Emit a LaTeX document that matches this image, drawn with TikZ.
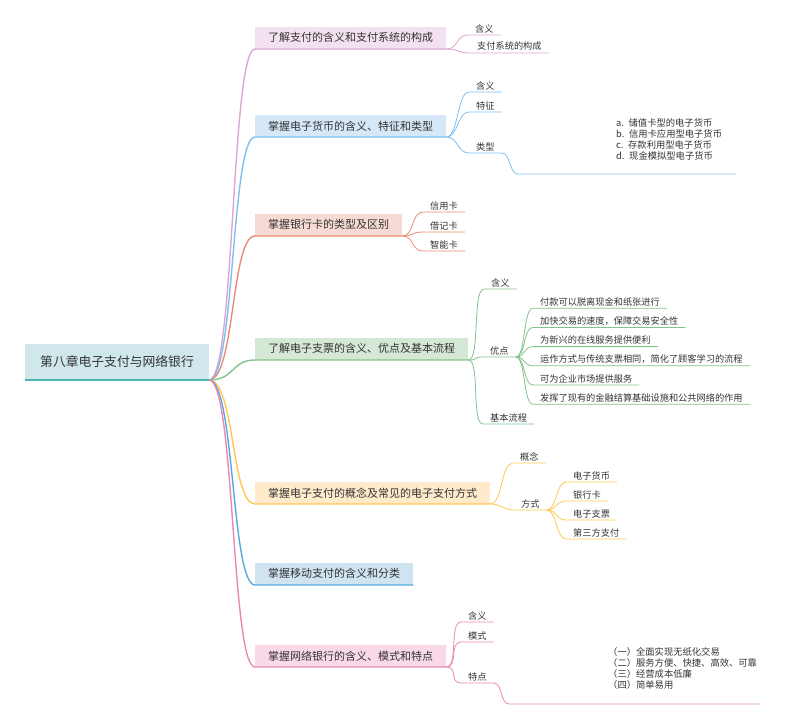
\documentclass[tikz,border=0pt]{standalone}
\usepackage{fontspec}
\setmainfont{Noto Sans CJK SC}
\usetikzlibrary{positioning}
\definecolor{txt}{RGB}{51,51,51}
\definecolor{rootfill}{RGB}{208,232,235}
\definecolor{rootline}{RGB}{77,182,180}
\definecolor{pkfill}{RGB}{243,225,240}
\definecolor{pkline}{RGB}{222,165,210}
\definecolor{blfill}{RGB}{214,232,248}
\definecolor{blline}{RGB}{125,192,240}
\definecolor{rdfill}{RGB}{247,218,212}
\definecolor{rdline}{RGB}{232,140,115}
\definecolor{gnfill}{RGB}{213,232,213}
\definecolor{gnline}{RGB}{130,195,140}
\definecolor{ylfill}{RGB}{255,234,204}
\definecolor{ylline}{RGB}{255,200,80}
\definecolor{cyfill}{RGB}{207,227,240}
\definecolor{cyline}{RGB}{85,170,220}
\definecolor{mgfill}{RGB}{249,217,231}
\definecolor{mgline}{RGB}{235,135,180}
\begin{document}
\begin{tikzpicture}[x=1pt,y=-1pt,
    topic/.style={fill=#1,text=txt,font=\fontsize{11}{13}\selectfont,inner xsep=13pt,inner ysep=0pt,minimum height=22pt,anchor=south west},
    sub/.style={text=txt,font=\fontsize{9.2}{11}\selectfont,inner xsep=7pt,inner ysep=2pt,anchor=south west},
    note/.style={text=txt,font=\fontsize{9.3}{11}\selectfont,align=left,anchor=north west,inner sep=0pt},
    trunk/.style={draw=#1,line width=1.4pt},
    twig/.style={draw=#1,line width=0.8pt}]
  \useasboundingbox (0,0) rectangle (800,725);

  % main topics
  \node[topic=pkfill] (t1) at (255,49) {了解支付的含义和支付系统的构成};
  \node[topic=blfill] (t2) at (255,137) {掌握电子货币的含义、特征和类型};
  \node[topic=rdfill] (t3) at (255,236) {掌握银行卡的类型及区别};
  \node[topic=gnfill] (t4) at (255,360) {了解电子支票的含义、优点及基本流程};
  \node[topic=ylfill] (t5) at (255,504) {掌握电子支付的概念及常见的电子支付方式};
  \node[topic=cyfill] (t6) at (255,585) {掌握移动支付的含义和分类};
  \node[topic=mgfill] (t7) at (255,667) {掌握网络银行的含义、模式和特点};

  % root
  \node[fill=rootfill,text=txt,font=\fontsize{12.8}{15}\selectfont,inner xsep=15pt,minimum height=36pt,anchor=south west] (root) at (25,380) {第八章电子支付与网络银行};
  \foreach \t/\c in {t1/pkline,t2/blline,t3/rdline,t4/gnline,t5/ylline,t6/cyline,t7/mgline}
    \draw[trunk=\c] (root.south east) .. controls +(26,0) and +(-24,0) .. (\t.south west) -- (\t.south east);
  \draw[rootline,line width=2.5pt] (root.south west) -- (root.south east);

  % subtopics
  \node[sub] (t1a) at (468,35) {含义};
  \node[sub] (t1b) at (470,53) {支付系统的构成};
  \node[sub] (t2a) at (469,92) {含义};
  \node[sub] (t2b) at (469,112) {特征};
  \node[sub] (t2c) at (469,153) {类型};
  \node[sub] (t3a) at (423,212) {信用卡};
  \node[sub] (t3b) at (423,232) {借记卡};
  \node[sub] (t3c) at (423,251) {智能卡};
  \node[sub] (t4a) at (484,289) {含义};
  \node[sub] (t4b) at (483,357) {优点};
  \node[sub] (t4c) at (483,424) {基本流程};
  \node[sub] (t5a) at (513,463) {概念};
  \node[sub] (t5b) at (514,510) {方式};
  \node[sub] (t7a) at (461,622) {含义};
  \node[sub] (t7b) at (461,642) {模式};
  \node[sub] (t7c) at (461,683) {特点};
  \foreach \p/\s/\c in {t1/t1a/pkline,t1/t1b/pkline,t2/t2a/blline,t2/t2b/blline,t2/t2c/blline,
      t3/t3a/rdline,t3/t3b/rdline,t3/t3c/rdline,t4/t4a/gnline,t4/t4b/gnline,t4/t4c/gnline,
      t5/t5a/ylline,t5/t5b/ylline,t7/t7a/mgline,t7/t7b/mgline,t7/t7c/mgline}
    \draw[twig=\c] (\p.south east) .. controls +(12,0) and +(-12,0) .. (\s.south west) -- (\s.south east);

  % advantages of e-cheques
  \foreach \txt [count=\i] in {付款可以脱离现金和纸张进行,加快交易的速度，保障交易安全性,为新兴的在线服务提供便利,
      运作方式与传统支票相同，简化了顾客学习的流程,可为企业市场提供服务,发挥了现有的金融结算基础设施和公共网络的作用}{
    \node[sub] (adv\i) at (533,{289+19.2*\i}) {\txt};
    \draw[twig=gnline] (t4b.south east) .. controls +(10,0) and +(-10,0) .. (adv\i.south west) -- (adv\i.south east);
  }

  % payment methods
  \foreach \txt [count=\i] in {电子货币,银行卡,电子支票,第三方支付}{
    \node[sub] (way\i) at (566,{463+19*\i}) {\txt};
    \draw[twig=ylline] (t5b.south east) .. controls +(10,0) and +(-10,0) .. (way\i.south west) -- (way\i.south east);
  }

  % notes
  \coordinate (t2s) at (518,174);
  \coordinate (t2e) at (736,174);
  \draw[twig=blline] (t2c.south east) .. controls +(9,0) and +(-9,0) .. (t2s) -- (t2e);
  \node[note] (t2n) at (616,118) {a.\enspace 储值卡型的电子货币\\b.\enspace 信用卡应用型电子货币\\c.\enspace 存款利用型电子货币\\d.\enspace 现金模拟型电子货币};
  \coordinate (t7s) at (509,704);
  \coordinate (t7e) at (760,704);
  \draw[twig=mgline] (t7c.south east) .. controls +(9,0) and +(-9,0) .. (t7s) -- (t7e);
  \node[note] (t7n) at (608,647) {（一）全面实现无纸化交易\\（二）服务方便、快捷、高效、可靠\\（三）经营成本低廉\\（四）简单易用};
\end{tikzpicture}
\end{document}
